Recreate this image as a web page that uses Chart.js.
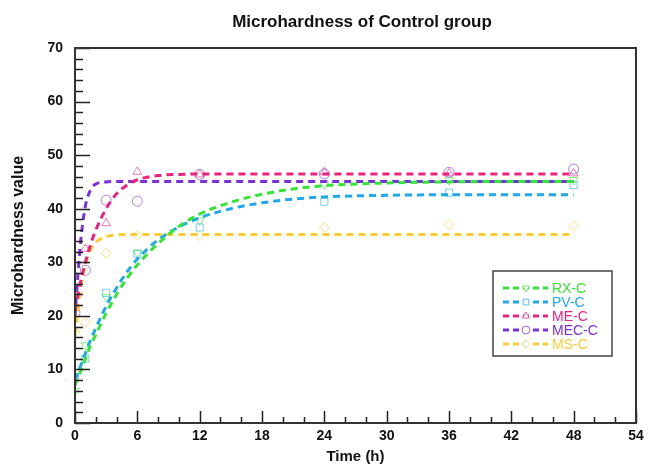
<!DOCTYPE html>
<html>
<head>
<meta charset="utf-8">
<script src="https://cdn.jsdelivr.net/npm/chart.js@4.4.1/dist/chart.umd.min.js"></script>
<style>
  body { margin: 0; background: #fff; }
  #wrap { width: 652px; height: 465px; position: relative; }
</style>
</head>
<body>
<div id="wrap"><canvas id="chart"></canvas></div>
<script>
// series names and colours
const seriesNames = ['RX-C', 'PV-C', 'ME-C', 'MEC-C', 'MS-C'];
const seriesColors = ['#33e633', '#1ea8ee', '#f0207f', '#7a2fe0', '#ffcc33'];
const markerStyles = ['triangle', 'rect', 'triangle', 'circle', 'rectRot'];
const markerRotation = [180, 0, 0, 0, 0];

// measured points
const pointTimes = [0, 1, 3, 6, 12, 24, 36, 48];
const rxPoints  = [6.0, 14.5, 23.5, 31.8, 37.8, 44.5, 45.3, 45.4];
const pvPoints  = [8.5, 12.0, 24.3, 31.6, 36.5, 41.3, 43.0, 44.4];
const mePoints  = [21.5, 32.5, 37.3, 46.9, 46.4, 46.8, 46.6, 46.6];
const mecPoints = [20.5, 28.5, 41.6, 41.4, 46.4, 46.5, 46.8, 47.4];
const msPoints  = [17.0, 18.8, 31.7, 35.0, 34.9, 36.5, 37.0, 36.8];

// fitted curves
const curveTimes = [0, 0.5, 1, 1.5, 2, 3, 4, 5, 6, 8, 10, 12, 15, 18, 21, 24, 30, 36, 42, 48];
const rxCurve  = [7.0, 9.5, 12.0, 14.5, 16.5, 20.5, 24.0, 27.0, 29.5, 33.5, 36.7, 39.0, 41.2, 42.7, 43.7, 44.3, 44.8, 45.0, 45.1, 45.1];
const pvCurve  = [8.0, 10.5, 13.0, 15.5, 17.7, 21.8, 25.2, 28.2, 30.6, 34.2, 36.6, 38.3, 40.0, 41.1, 41.8, 42.2, 42.5, 42.6, 42.6, 42.6];
const meCurve  = [21.0, 26.0, 30.0, 33.3, 36.0, 40.0, 42.8, 44.4, 45.4, 46.2, 46.4, 46.5, 46.5, 46.5, 46.5, 46.5, 46.5, 46.5, 46.5, 46.5];
const mecCurve = [20.0, 33.0, 40.5, 43.5, 44.6, 45.0, 45.1, 45.1, 45.1, 45.1, 45.1, 45.1, 45.1, 45.1, 45.1, 45.1, 45.1, 45.1, 45.1, 45.1];
const msCurve  = [16.5, 24.5, 29.5, 32.3, 33.7, 34.8, 35.1, 35.2, 35.2, 35.2, 35.2, 35.2, 35.2, 35.2, 35.2, 35.2, 35.2, 35.2, 35.2, 35.2];

// axis ticks
const xTicks = [0, 6, 12, 18, 24, 30, 36, 42, 48, 54];
const yTicks = [0, 10, 20, 30, 40, 50, 60, 70];

const allPoints = [rxPoints, pvPoints, mePoints, mecPoints, msPoints];
const allCurves = [rxCurve, pvCurve, meCurve, mecCurve, msCurve];

const FONT = '"Liberation Sans", Arial, sans-serif';

function hexAlpha(hex, a) {
    const n = parseInt(hex.slice(1), 16);
    return 'rgba(' + (n >> 16) + ',' + ((n >> 8) & 255) + ',' + (n & 255) + ',' + a + ')';
}

const datasets = [];
seriesNames.forEach((name, i) => {
    datasets.push({
        label: name,
        type: 'line',
        data: curveTimes.map((t, j) => ({ x: t, y: allCurves[i][j] })),
        borderColor: seriesColors[i],
        borderWidth: 3,
        borderDash: [7, 5],
        pointRadius: 0,
        cubicInterpolationMode: 'monotone',
        fill: false
    });
});
seriesNames.forEach((name, i) => {
    datasets.push({
        label: name + ' pts',
        type: 'scatter',
        data: pointTimes.map((t, j) => ({ x: t, y: allPoints[i][j] })),
        borderColor: hexAlpha(seriesColors[i], 0.6),
        backgroundColor: 'rgba(0,0,0,0)',
        borderWidth: 1,
        pointStyle: markerStyles[i],
        rotation: markerRotation[i],
        pointRadius: 5
    });
});

// box, inward ticks, title and legend
const framePlugin = {
    id: 'frame',
    afterDraw(chart) {
        const ctx = chart.ctx;
        const a = chart.chartArea;
        const xs = chart.scales.x, ys = chart.scales.y;
        ctx.save();
        ctx.strokeStyle = '#222';
        ctx.lineWidth = 1.5;
        ctx.beginPath();
        for (let v = 0; v <= 54; v += 2) {
            const px = Math.round(xs.getPixelForValue(v)) + 0.5;
            const len = v % 6 === 0 ? 12 : 6;
            ctx.moveTo(px, a.bottom);
            ctx.lineTo(px, a.bottom - len);
        }
        for (let v = 0; v <= 70; v += 2) {
            const py = Math.round(ys.getPixelForValue(v)) + 0.5;
            const len = v % 10 === 0 ? 15 : 8;
            ctx.moveTo(a.left, py);
            ctx.lineTo(a.left + len, py);
        }
        ctx.stroke();
        ctx.lineWidth = 2;
        ctx.strokeStyle = '#333';
        ctx.strokeRect(a.left, a.top, a.right - a.left, a.bottom - a.top);

        // title
        ctx.fillStyle = '#111';
        ctx.font = 'bold 17px ' + FONT;
        ctx.textAlign = 'center';
        ctx.textBaseline = 'middle';
        ctx.fillText('Microhardness of Control group', 362, 22);

        // legend
        const lx = 493, ly = 271, lw = 119, lh = 85;
        ctx.fillStyle = '#fff';
        ctx.fillRect(lx, ly, lw, lh);
        ctx.lineWidth = 1.5;
        ctx.strokeStyle = '#444';
        ctx.strokeRect(lx, ly, lw, lh);
        ctx.font = '14px ' + FONT;
        ctx.textAlign = 'left';
        seriesNames.forEach((name, i) => {
            const y = ly + 17 + i * 14;
            ctx.strokeStyle = seriesColors[i];
            ctx.lineWidth = 3;
            ctx.setLineDash([6, 4]);
            ctx.beginPath();
            ctx.moveTo(lx + 10, y);
            ctx.lineTo(lx + 55, y);
            ctx.stroke();
            ctx.setLineDash([]);
            ctx.lineWidth = 1;
            ctx.fillStyle = '#fff';
            ctx.strokeStyle = hexAlpha(seriesColors[i], 0.7);
            Chart.helpers.drawPoint(ctx, {
                pointStyle: markerStyles[i],
                rotation: markerRotation[i],
                radius: 4,
                borderWidth: 1
            }, lx + 33, y);
            ctx.fillStyle = seriesColors[i];
            ctx.fillText(name, lx + 59, y + 1);
        });
        ctx.restore();
    }
};

const ctx = document.getElementById('chart').getContext('2d');
new Chart(ctx, {
    data: { datasets: datasets },
    options: {
        responsive: true,
        maintainAspectRatio: false,
        animation: false,
        layout: { padding: { top: 48, right: 16, left: 0, bottom: 0 } },
        plugins: {
            legend: { display: false },
            tooltip: { enabled: false }
        },
        scales: {
            x: {
                type: 'linear',
                min: 0,
                max: 54,
                afterFit: s => { s.height = 42; },
                afterBuildTicks: s => { s.ticks = xTicks.map(v => ({ value: v })); },
                grid: { display: false, drawTicks: false },
                border: { display: false },
                ticks: {
                    padding: 5,
                    color: '#111',
                    maxRotation: 0,
                    font: { family: FONT, size: 14, weight: 'bold' }
                },
                title: {
                    display: true,
                    text: 'Time (h)',
                    color: '#111',
                    padding: { top: 0, bottom: -1 },
                    font: { family: FONT, size: 15, weight: 'bold' }
                }
            },
            y: {
                type: 'linear',
                min: 0,
                max: 70,
                afterFit: s => { s.width = 75; },
                afterBuildTicks: s => { s.ticks = yTicks.map(v => ({ value: v })); },
                grid: { display: false, drawTicks: false },
                border: { display: false },
                ticks: {
                    padding: 12,
                    color: '#111',
                    font: { family: FONT, size: 14, weight: 'bold' }
                },
                title: {
                    display: true,
                    text: 'Microhardness value',
                    color: '#111',
                    padding: { top: 9, bottom: 0 },
                    font: { family: FONT, size: 16, weight: 'bold' }
                }
            }
        }
    },
    plugins: [framePlugin]
});
</script>
</body>
</html>
